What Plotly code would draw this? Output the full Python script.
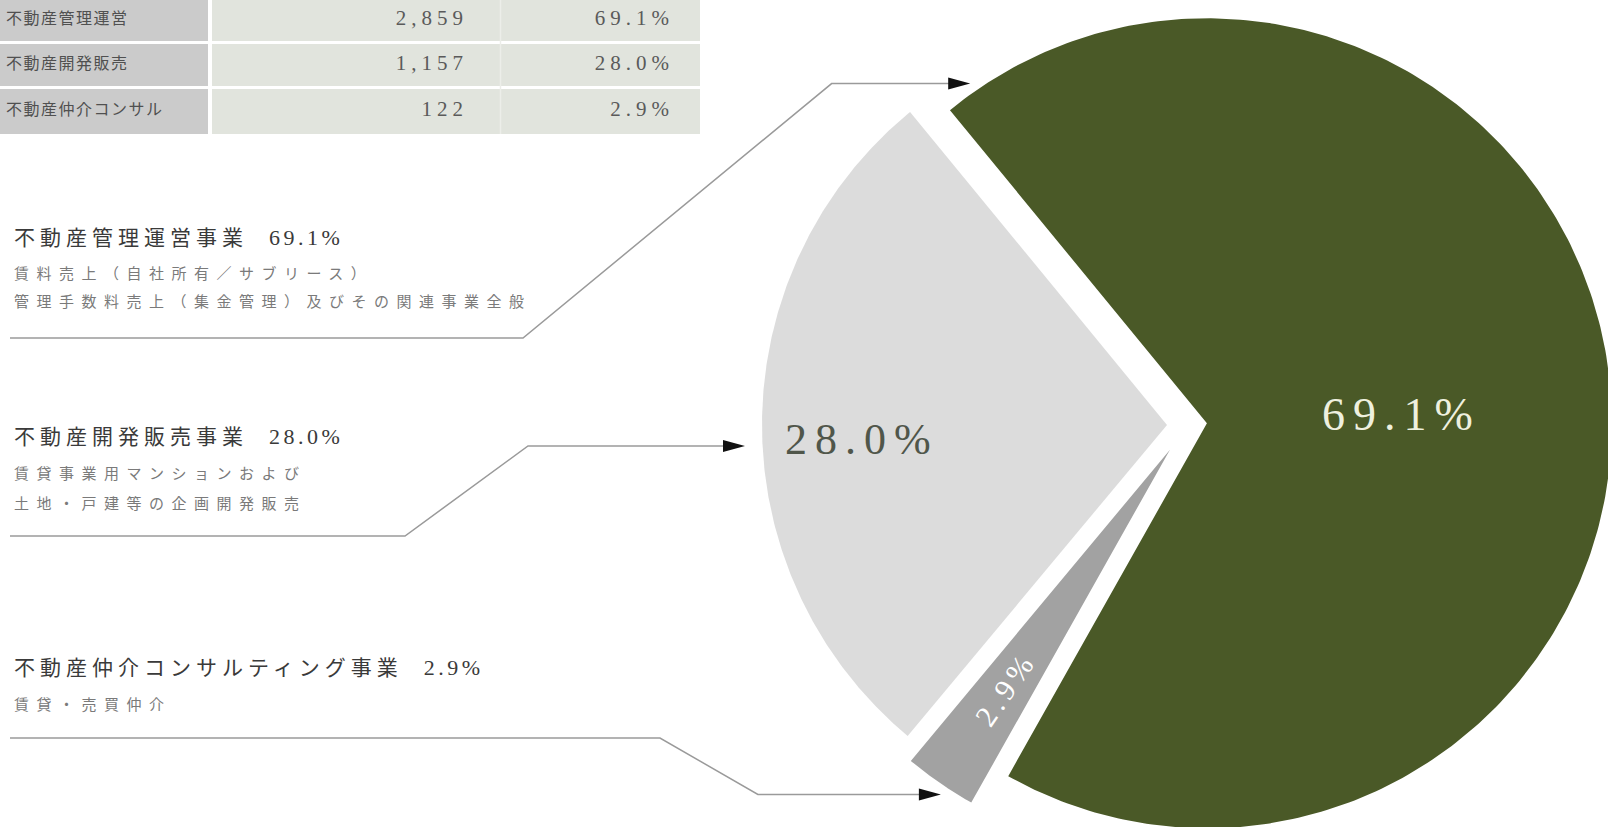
import numpy as np
import plotly.graph_objects as go

W, H = 1608, 827

# ---- data -------------------------------------------------------------
segment_names = ["不動産管理運営事業", "不動産開発販売事業", "不動産仲介コンサルティング事業"]
table_names = ["不動産管理運営", "不動産開発販売", "不動産仲介コンサル"]
sales = [2859, 1157, 122]
shares = [69.1, 28.0, 2.9]
descriptions = [
    ["賃料売上（自社所有／サブリース）", "管理手数料売上（集金管理）及びその関連事業全般"],
    ["賃貸事業用マンションおよび", "土地・戸建等の企画開発販売"],
    ["賃貸・売買仲介"],
]

# ---- styling ----------------------------------------------------------
slice_colors = ["#4a5927", "#dcdcdc", "#a2a2a2"]
label_colors = ["#eef0df", "#50564a", "#ffffff"]
SERIF = "Liberation Serif, Noto Sans CJK JP, serif"
CJK = "Noto Sans CJK JP, Liberation Serif, sans-serif"


def spaced(text, px):
    return f'<span style="letter-spacing:{px}px">{text}</span>'


def pct(v):
    return f"{v:.1f}%"


# ---- pie geometry (hidden axes measured in pixels) ---------------------
center = np.array([1187.0, 425.0])
radius = 405.0
pull = [20.0, 20.0, 30.0]
small_dir = 185.0  # direction in which the two small slices point
sweeps = np.array(shares) / sum(shares) * 360.0
start = small_dir - (sweeps[1] + sweeps[2]) / 2.0
angles = {}
a = start
for i in [1, 2, 0]:  # counterclockwise: light grey, dark grey, green
    angles[i] = (a, a + sweeps[i])
    a += sweeps[i]


def polar(origin, r, deg):
    t = np.radians(deg)
    return origin[0] + r * np.cos(t), origin[1] - r * np.sin(t)


apex = {}
fig = go.Figure()

# table cells
row_edges = [-5, 42.5, 87.5, 135.5]
row_mid = [20, 65, 111]
fig.add_trace(go.Heatmap(
    x=[-90, 210, 700], y=row_edges,
    z=[[0, 1] for _ in table_names],
    colorscale=[[0, "#cbcbcb"], [1, "#e1e4dd"]], zmin=0, zmax=1,
    showscale=False, ygap=3, hoverinfo="skip",
))
fig.add_trace(go.Scatter(
    x=[6] * len(table_names), y=row_mid, mode="text",
    text=[spaced(n, 1.5) for n in table_names], textposition="middle right",
    textfont=dict(family=CJK, size=16, color="#505050"),
    cliponaxis=False, hoverinfo="skip",
))
fig.add_trace(go.Scatter(
    x=[468] * len(sales), y=row_mid, mode="text",
    text=[spaced(f"{v:,}", 5) for v in sales], textposition="middle left",
    textfont=dict(family=SERIF, size=21, color="#5a5a5a"),
    cliponaxis=False, hoverinfo="skip",
))
fig.add_trace(go.Scatter(
    x=[674] * len(shares), y=row_mid, mode="text",
    text=[spaced(pct(v), 5) for v in shares], textposition="middle left",
    textfont=dict(family=SERIF, size=21, color="#5a5a5a"),
    cliponaxis=False, hoverinfo="skip",
))

# pie wedges
for i in [0, 1, 2]:
    a0, a1 = angles[i]
    mid = (a0 + a1) / 2.0
    ox, oy = polar(center, pull[i], mid)
    apex[i] = (ox, oy)
    t = np.linspace(a0, a1, 300)
    ax_, ay_ = polar((ox, oy), radius, t)
    fig.add_trace(go.Scatter(
        x=np.concatenate([[ox], ax_, [ox]]),
        y=np.concatenate([[oy], ay_, [oy]]),
        mode="lines", fill="toself", fillcolor=slice_colors[i],
        line=dict(width=0, color=slice_colors[i]),
        name=segment_names[i], hoverinfo="name", cliponaxis=True,
    ))

annotations = []
# labels inside the wedges
label_r = [195, 305, 290]
label_turn = [-2.5, 3.0, 0.0]
label_size = [46, 44, 30]
for i in [0, 1, 2]:
    a0, a1 = angles[i]
    mid = (a0 + a1) / 2.0
    lx, ly = polar(apex[i], label_r[i], mid + label_turn[i])
    ang = 0 if i < 2 else -(mid - 180.0)
    annotations.append(dict(
        x=lx, y=ly, xref="x", yref="y", showarrow=False,
        text=spaced(pct(shares[i]), 8 if i < 2 else 5), textangle=ang,
        font=dict(family=SERIF, size=label_size[i], color=label_colors[i]),
        xanchor="center", yanchor="middle",
    ))

# segment descriptions on the left
title_y = [237, 436, 667]
desc_y = [[272, 300], [472, 502], [703]]
for i in range(3):
    annotations.append(dict(
        x=12, y=title_y[i], xref="x", yref="y", showarrow=False,
        text=(spaced(segment_names[i], 5) + "\u00a0\u00a0\u00a0\u00a0"
              + f'<span style="font-size:22px;letter-spacing:3.5px">{pct(shares[i])}</span>'),
        font=dict(family=SERIF, size=21, color="#3a3a3a"),
        xanchor="left", yanchor="middle",
    ))
    for line, yy in zip(descriptions[i], desc_y[i]):
        annotations.append(dict(
            x=12, y=yy, xref="x", yref="y", showarrow=False,
            text=spaced(line, 7.5),
            font=dict(family=CJK, size=15, color="#7a7a7a"),
            xanchor="left", yanchor="middle",
        ))

# leader lines ending on their own wedge
tip1 = polar(apex[0], radius + 9, angles[0][1] - 360 - 4.5)
tip2 = (745, 446)
tip3 = polar(apex[2], radius + 9, (angles[2][0] + angles[2][1]) / 2 + 1)
leaders = [
    [(10, 338), (523, 338), (523 + (338 - tip1[1]) / np.tan(np.radians(39.5)), tip1[1]), tip1],
    [(10, 536), (405, 536), (528, 446), tip2],
    [(10, 738), (660, 738), (660 + (tip3[1] - 738) / np.tan(np.radians(30)), tip3[1]), tip3],
]
shapes = [
    dict(type="line", x0=210, x1=210, y0=-5, y1=134, xref="x", yref="y",
         line=dict(color="#ffffff", width=4)),
    dict(type="line", x0=500.5, x1=500.5, y0=-5, y1=134, xref="x", yref="y",
         line=dict(color="#eceee9", width=1.5)),
]
for pts in leaders:
    pts = [tuple(map(float, p)) for p in pts]
    (px, py), (tx, ty) = pts[-2], pts[-1]
    d = np.array([tx - px, ty - py])
    d /= np.linalg.norm(d)
    n = np.array([-d[1], d[0]])
    head_len, half_w = 22.0, 6.0
    base = np.array([tx, ty]) - d * head_len
    line_pts = pts[:-1] + [tuple(base + d * 2)]
    path = "M " + " L ".join(f"{x:.1f},{y:.1f}" for x, y in line_pts)
    shapes.append(dict(type="path", path=path, xref="x", yref="y",
                       line=dict(color="#9a9a9a", width=1.5)))
    b1, b2 = base + n * half_w, base - n * half_w
    shapes.append(dict(
        type="path", xref="x", yref="y",
        path=f"M {tx:.1f},{ty:.1f} L {b1[0]:.1f},{b1[1]:.1f} L {b2[0]:.1f},{b2[1]:.1f} Z",
        fillcolor="#111111", line=dict(width=0),
    ))

fig.update_layout(
    width=W, height=H,
    margin=dict(l=0, r=0, t=0, b=0, pad=0),
    paper_bgcolor="#ffffff", plot_bgcolor="#ffffff",
    showlegend=False,
    xaxis=dict(range=[0, W], visible=False, fixedrange=True),
    yaxis=dict(range=[H, 0], visible=False, fixedrange=True),
    annotations=annotations, shapes=shapes,
)
fig.write_html("out.html", config={"displayModeBar": False})
